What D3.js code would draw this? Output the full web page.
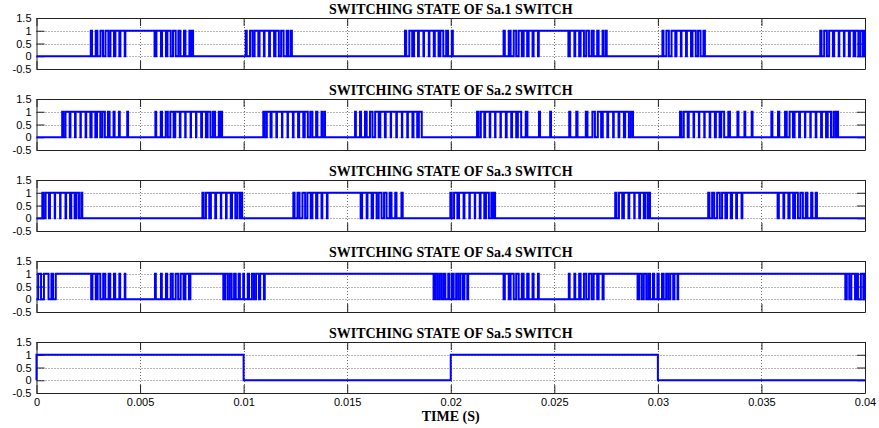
<!DOCTYPE html>
<html>
<head>
<meta charset="utf-8">
<script src="https://cdn.jsdelivr.net/npm/d3@7"></script>
<style>
body { margin: 0; background: #fff; }
svg text { font-family: "Liberation Sans", Arial, sans-serif; font-size: 11px; fill: #000; }
svg text.title, svg text.xlabel { font-family: "Liberation Serif", "Times New Roman", serif; font-weight: bold; font-size: 14px; }
.grid line { stroke: #444; stroke-dasharray: 1,2; stroke-width: 0.8; }
.axis path, .axis line { stroke: #222; }
</style>
</head>
<body>
<svg id="chart" width="879" height="428"></svg>
<script>
// titles of the five panels
const titles = [
    'SWITCHING STATE OF Sa.1 SWITCH',
    'SWITCHING STATE OF Sa.2 SWITCH',
    'SWITCHING STATE OF Sa.3 SWITCH',
    'SWITCHING STATE OF Sa.4 SWITCH',
    'SWITCHING STATE OF Sa.5 SWITCH'
];

// "on" intervals of each switch, [rise, fall] in ms
const sa1 = [
    [2.62,2.68],[2.86,2.94],[3.09,3.21],[3.33,3.47],[3.57,3.74],[3.81,4.00],[4.05,4.26],[4.29,5.70],
    [5.79,6.01],[6.06,6.25],[6.32,6.48],[6.59,6.72],[6.85,6.95],[7.12,7.19],[7.38,7.43],[7.52,7.56],
    [10.10,10.15],[10.31,10.43],[10.53,10.71],[10.77,10.98],[11.01,11.23],[11.27,11.47],[11.54,11.70],[11.81,11.93],[12.08,12.16],[12.28,12.33],
    [17.79,17.85],[18.00,18.14],[18.23,18.42],[18.46,18.68],[18.71,18.94],[18.97,19.18],[19.23,19.41],[19.50,19.64],[19.78,19.87],[20.05,20.10],
    [22.55,22.61],[22.80,22.89],[23.04,23.16],[23.28,23.43],[23.52,23.69],[23.76,23.95],[24.00,24.21],[24.25,25.68],
    [25.75,25.97],[26.01,26.20],[26.27,26.43],[26.54,26.67],[26.80,26.90],[27.07,27.14],[27.33,27.38],[27.49,27.53],
    [30.22,30.27],[30.41,30.53],[30.66,30.84],[30.90,31.11],[31.14,31.36],[31.40,31.60],[31.67,31.83],[31.94,32.06],[32.20,32.27],
    [37.84,37.90],[38.03,38.16],[38.27,38.45],[38.51,38.73],[38.76,38.98],[39.01,39.22],[39.27,39.45],[39.53,39.68],[39.78,39.90],[39.96,40.00]
];

const sa2 = [
    [1.24,1.30],[1.40,1.60],[1.64,1.86],[1.89,2.12],[2.14,2.37],[2.40,2.60],[2.66,2.84],[2.92,3.08],[3.18,3.30],[3.45,3.53],[3.72,3.77],[3.98,4.02],[4.38,4.42],
    [5.74,5.78],[6.00,6.06],[6.24,6.34],[6.46,6.62],[6.70,6.92],[6.95,7.18],[7.20,7.44],[7.46,7.70],[7.72,7.95],[7.99,8.18],[8.26,8.40],[8.52,8.62],[8.80,8.86],[8.92,8.96],
    [10.95,11.02],[11.12,11.30],[11.35,11.58],[11.61,11.85],[11.87,12.12],[12.14,12.38],[12.41,12.63],[12.68,12.88],[12.95,13.10],[13.22,13.32],[13.50,13.56],[13.76,13.80],[13.90,13.93],
    [15.38,15.42],[15.62,15.67],[15.86,15.94],[16.10,16.22],[16.35,16.52],[16.60,16.82],[16.86,17.10],[17.12,17.37],[17.40,17.64],[17.66,17.90],[17.93,18.15],[18.20,18.38],[18.46,18.60],
    [21.27,21.34],[21.45,21.62],[21.66,21.88],[21.91,22.14],[22.16,22.40],[22.42,22.66],[22.70,22.92],[22.96,23.16],[23.24,23.40],[23.62,23.70],[24.26,24.31],[24.80,24.84],
    [25.72,25.77],[26.06,26.12],[26.52,26.60],[26.84,26.96],[27.10,27.26],[27.34,27.56],[27.60,27.84],[27.87,28.10],[28.14,28.36],[28.42,28.60],[28.70,28.80],
    [31.07,31.14],[31.25,31.44],[31.49,31.72],[31.75,31.98],[32.00,32.24],[32.26,32.50],[32.53,32.75],[32.80,32.98],[33.06,33.20],[33.40,33.48],[33.84,33.89],[34.18,34.22],[34.53,34.57],
    [35.48,35.53],[35.80,35.86],[36.14,36.22],[36.36,36.52],[36.60,36.82],[36.86,37.10],[37.12,37.36],[37.38,37.62],[37.65,37.88],[37.92,38.12],[38.20,38.36],[38.48,38.58],[38.66,38.70]
];

const sa3 = [
    [0.28,0.34],[0.44,0.60],[0.65,0.88],[0.90,1.14],[1.16,1.40],[1.43,1.62],[1.68,1.84],[1.93,2.05],[2.16,2.21],
    [8.01,8.07],[8.18,8.34],[8.42,8.63],[8.67,8.90],[8.92,9.15],[9.18,9.38],[9.44,9.60],[9.70,9.82],[9.90,9.93],
    [12.40,12.46],[12.60,12.70],[12.84,12.97],[13.08,13.24],[13.32,13.50],[13.56,13.76],[13.80,14.02],[14.05,15.65],
    [15.72,15.94],[15.98,16.18],[16.25,16.42],[16.52,16.66],[16.78,16.90],[17.05,17.14],[17.32,17.38],[17.62,17.68],
    [19.98,20.05],[20.16,20.32],[20.40,20.62],[20.66,20.90],[20.92,21.16],[21.18,21.40],[21.44,21.62],[21.70,21.84],[21.96,22.04],[22.10,22.14],
    [27.94,28.00],[28.12,28.28],[28.36,28.58],[28.62,28.86],[28.88,29.10],[29.14,29.32],[29.40,29.52],[29.58,29.62],
    [32.43,32.49],[32.62,32.72],[32.86,32.99],[33.10,33.26],[33.34,33.52],[33.58,33.78],[33.82,34.04],[34.08,35.78],
    [35.84,36.06],[36.10,36.30],[36.36,36.53],[36.62,36.76],[36.88,37.00],[37.14,37.22],[37.40,37.46],[37.62,37.68]
];

const sa4 = [
    [0.08,0.22],[0.36,0.58],[0.72,0.80],[0.93,2.64],
    [2.70,2.86],[2.95,3.08],[3.22,3.32],[3.48,3.56],[3.74,3.80],[4.00,4.04],[4.26,4.29],
    [5.72,5.76],[6.01,6.05],[6.25,6.31],[6.48,6.58],[6.72,6.84],[6.96,7.10],[7.19,7.36],[7.43,9.02],
    [9.10,9.22],[9.32,9.42],[9.54,9.62],[9.76,9.82],[9.98,10.02],[10.20,10.26],[10.40,10.50],[10.60,10.74],[10.80,10.98],[11.02,19.17],
    [19.26,19.36],[19.46,19.56],[19.66,19.74],[19.88,19.94],[20.06,20.14],[20.26,20.36],[20.46,20.58],[20.66,20.80],[20.84,22.55],
    [22.61,22.80],[22.89,23.04],[23.16,23.28],[23.43,23.52],[23.69,23.76],[23.95,24.00],[24.21,24.25],
    [25.70,25.74],[25.97,26.01],[26.20,26.27],[26.43,26.54],[26.67,26.80],[26.90,27.07],[27.14,27.33],[27.38,29.02],
    [29.10,29.22],[29.32,29.44],[29.54,29.62],[29.76,29.82],[29.98,30.04],[30.20,30.28],[30.40,30.50],[30.60,30.74],[30.80,30.95],[30.98,39.05],
    [39.12,39.24],[39.34,39.52],[39.60,39.66],[39.80,39.92],[39.96,40.00]
];

const sa5 = [[0, 10], [20, 30]];

const signals = [sa1, sa2, sa3, sa4, sa5];

const xTicks = [0, 0.005, 0.01, 0.015, 0.02, 0.025, 0.03, 0.035, 0.04];
const xTickLabels = ['0', '0.005', '0.01', '0.015', '0.02', '0.025', '0.03', '0.035', '0.04'];
const yTicks = [-0.5, 0, 0.5, 1, 1.5];
const yTickLabels = ['-0.5', '0', '0.5', '1', '1.5'];
const xLabel = 'TIME (S)';

const svg = d3.select('#chart');

const left = 36.5;
const right = 865;
const panelTop = 18;
const panelH = 51;
const panelStep = 81;
const tick = 8;

const x = d3.scaleLinear().domain([0, 0.04]).range([left, right]);

signals.forEach((sig, i) => {
    const top = panelTop + i * panelStep;
    const bottom = top + panelH;
    const y = d3.scaleLinear().domain([-0.5, 1.5]).range([bottom, top]);
    const g = svg.append('g').attr('class', 'panel');

    // dotted grid
    const grid = g.append('g').attr('class', 'grid');
    grid.selectAll('line.gx')
        .data(xTicks.slice(1, -1))
        .enter()
        .append('line')
        .attr('x1', d => Math.round(x(d)) + 0.5)
        .attr('x2', d => Math.round(x(d)) + 0.5)
        .attr('y1', top)
        .attr('y2', bottom);
    grid.selectAll('line.gy')
        .data(yTicks.slice(1, -1))
        .enter()
        .append('line')
        .attr('x1', left)
        .attr('x2', right)
        .attr('y1', d => Math.round(y(d)) + 0.5)
        .attr('y2', d => Math.round(y(d)) + 0.5);

    // axes, ticks pointing inward on all four sides
    const xb = d3.axisBottom(x).tickValues(xTicks).tickSize(-tick).tickSizeOuter(0).tickPadding(5)
        .tickFormat(i === signals.length - 1 ? (d, k) => xTickLabels[k] : '');
    const xt = d3.axisTop(x).tickValues(xTicks).tickSize(-tick).tickSizeOuter(0).tickFormat('');
    const yl = d3.axisLeft(y).tickValues(yTicks).tickSize(-tick).tickSizeOuter(0).tickPadding(5)
        .tickFormat((d, k) => yTickLabels[k]);
    const yr = d3.axisRight(y).tickValues(yTicks).tickSize(-tick).tickSizeOuter(0).tickFormat('');

    g.append('g').attr('class', 'axis').attr('transform', `translate(0,${bottom})`).call(xb);
    g.append('g').attr('class', 'axis').attr('transform', `translate(0,${top})`).call(xt);
    g.append('g').attr('class', 'axis').attr('transform', `translate(${left},0)`).call(yl);
    g.append('g').attr('class', 'axis').attr('transform', `translate(${right},0)`).call(yr);
    g.selectAll('.axis text').attr('font-family', null).attr('font-size', null);

    // switching signal as a step line
    const pts = [[0, 0]];
    sig.forEach(([on, off]) => {
        pts.push([on / 1000, 1]);
        pts.push([off / 1000, 0]);
    });
    pts.push([0.04, pts[pts.length - 1][1]]);

    g.append('path')
        .datum(pts)
        .attr('fill', 'none')
        .attr('stroke', '#0000ff')
        .attr('stroke-width', 2)
        .attr('d', d3.line()
            .x(d => x(d[0]))
            .y(d => y(d[1]))
            .curve(d3.curveStepAfter));

    g.append('text')
        .attr('class', 'title')
        .attr('x', (left + right) / 2)
        .attr('y', top - 4)
        .attr('text-anchor', 'middle')
        .text(titles[i]);
});

svg.append('text')
    .attr('class', 'xlabel')
    .attr('x', (left + right) / 2)
    .attr('y', 421)
    .attr('text-anchor', 'middle')
    .text(xLabel);
</script>
</body>
</html>
